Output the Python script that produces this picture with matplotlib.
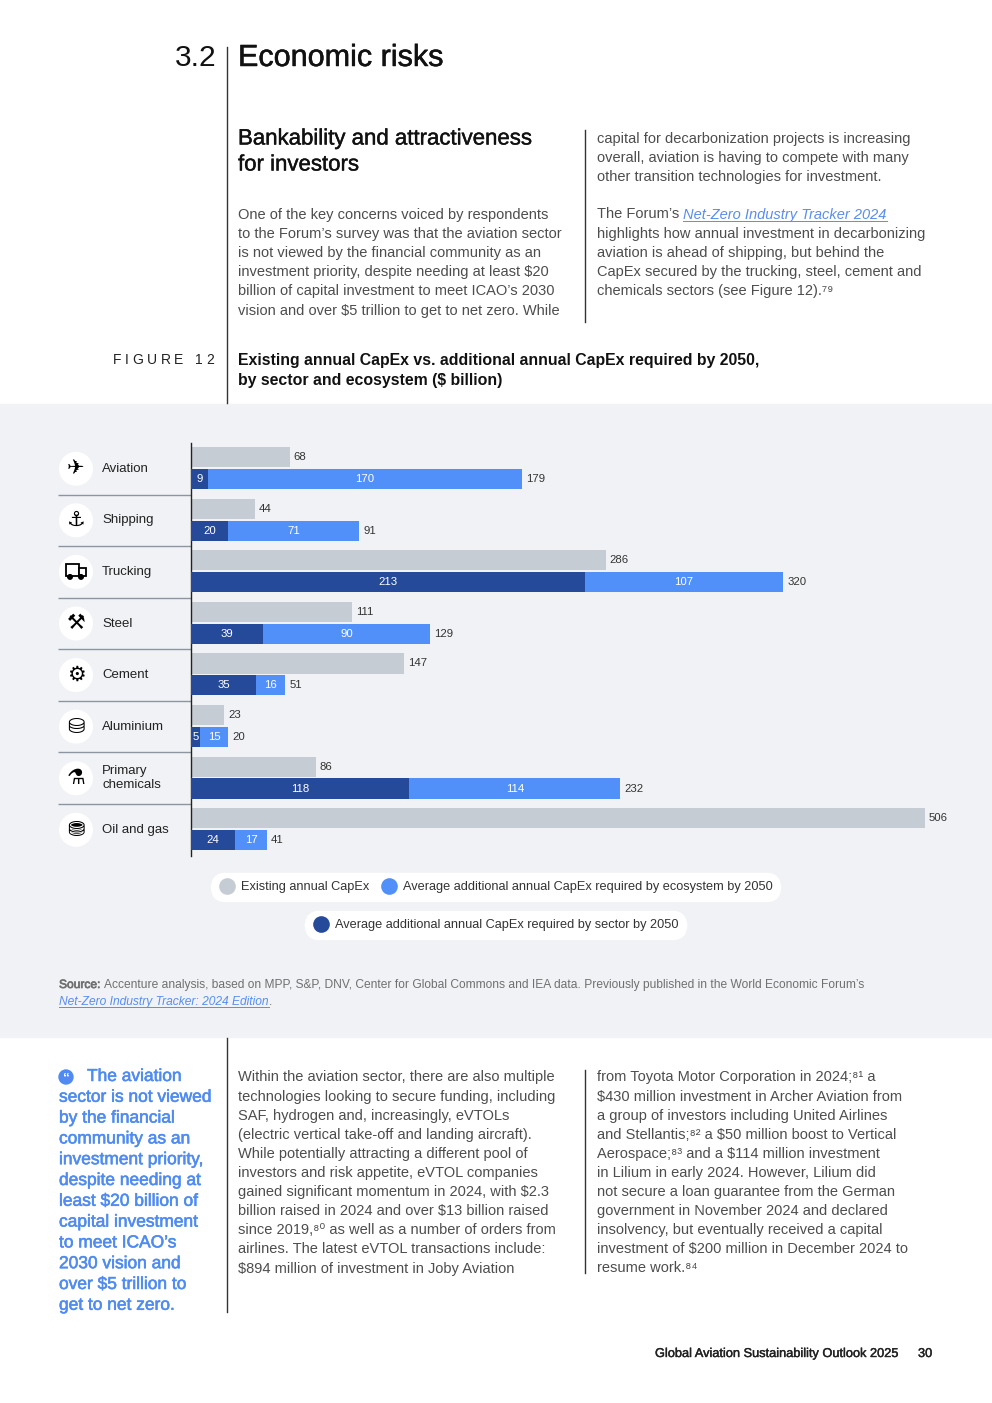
import numpy as np
import matplotlib
matplotlib.use("Agg")
import matplotlib.pyplot as plt
import matplotlib.patheffects as pe
from matplotlib.lines import Line2D
from matplotlib.patches import Rectangle, Ellipse

plt.rcParams['font.family'] = ['Liberation Sans', 'DejaVu Sans']
plt.rcParams['text.parse_math'] = False

# ---- data -------------------------------------------------------------
sectors = ["Aviation", "Shipping", "Trucking", "Steel", "Cement",
           "Aluminium", "Primary\nchemicals", "Oil and gas"]
icons = ["✈", "⚓", "", "⚒", "⚙", "⛁", "⚗", "⛃"]   # trucking icon drawn as shapes
existing = [68, 44, 286, 111, 147, 23, 86, 506]
by_sector = [9, 20, 213, 39, 35, 5, 118, 24]
by_ecosystem = [170, 71, 107, 90, 16, 15, 114, 17]
legend_labels = ["Existing annual CapEx",
                 "Average additional annual CapEx required by ecosystem by 2050",
                 "Average additional annual CapEx required by sector by 2050"]

GREY = "#C5CCD4"
DARK = "#264A9A"
BLUE = "#5290F9"
PANEL = "#F0F2F5"
BODY = "#4D4D4D"
LINK = "#5A8DEE"

W, H = 992, 1403
fig = plt.figure(figsize=(W / 100, H / 100), dpi=100)
renderer = fig.canvas.get_renderer()


def fx(x):
    return x / W


def fy(y):
    return 1 - y / H


def txt(x, y, s, **kw):
    kw.setdefault('va', 'center')
    return fig.text(fx(x), fy(y), s, **kw)


def medium(color, lw=0.6):
    return [pe.withStroke(linewidth=lw, foreground=color)]


def run(x, y, parts, **kw):
    # draw pieces of one line after each other (links, bold words)
    for s, extra, underline in parts:
        t = txt(x, y, s, **{**kw, **extra})
        bb = t.get_window_extent(renderer)
        if underline:
            fig.add_artist(Line2D([fx(bb.x0), fx(bb.x1)], [bb.y0 / H + 0.0006] * 2,
                                  transform=fig.transFigure,
                                  color=extra.get('color', BODY), lw=0.7))
        x += bb.width


def vline(x, y0, y1, color="#333333"):
    fig.add_artist(Line2D([fx(x), fx(x)], [fy(y0), fy(y1)],
                          transform=fig.transFigure, color=color, lw=1))


# ---- header -----------------------------------------------------------
txt(216, 58, "3.2", ha='right', fontsize=21.5, color="#111111")
txt(238, 58, "Economic risks", fontsize=22, color="#111111",
    path_effects=medium("#111111", 0.35))
vline(227, 47, 403)

txt(238, 139, "Bankability and attractiveness", fontsize=16, color="#111111",
    path_effects=medium("#111111", 0.3))
txt(238, 165, "for investors", fontsize=16, color="#111111",
    path_effects=medium("#111111", 0.3))

body = dict(fontsize=10.5, color=BODY)
col1 = ["One of the key concerns voiced by respondents",
        "to the Forum’s survey was that the aviation sector",
        "is not viewed by the financial community as an",
        "investment priority, despite needing at least $20",
        "billion of capital investment to meet ICAO’s 2030",
        "vision and over $5 trillion to get to net zero. While"]
for i, line in enumerate(col1):
    txt(238, 214.5 + 19.2 * i, line, **body)

vline(585, 130, 322)
col2 = ["capital for decarbonization projects is increasing",
        "overall, aviation is having to compete with many",
        "other transition technologies for investment."]
for i, line in enumerate(col2):
    txt(597, 138.5 + 19.2 * i, line, **body)
run(597, 214.5, [("The Forum’s ", {}, False),
                 ("Net-Zero Industry Tracker 2024", dict(style='italic', color=LINK), True)],
    **body)
col2b = ["highlights how annual investment in decarbonizing",
         "aviation is ahead of shipping, but behind the",
         "CapEx secured by the trucking, steel, cement and",
         "chemicals sectors (see Figure 12).⁷⁹"]
for i, line in enumerate(col2b):
    txt(597, 233.7 + 19.2 * i, line, **body)

# figure label with letter spacing
xc = 113
for ch in "FIGURE 12":
    t = txt(xc, 360, ch, fontsize=10, color="#222222")
    xc += t.get_window_extent(renderer).width + 3.6
txt(238, 360, "Existing annual CapEx vs. additional annual CapEx required by 2050,",
    fontsize=11.4, color="#111111", fontweight='bold')
txt(238, 380, "by sector and ecosystem ($ billion)",
    fontsize=11.4, color="#111111", fontweight='bold')

# ---- chart panel ------------------------------------------------------
fig.add_artist(Rectangle((0, fy(1037)), 1, (1037 - 404) / H,
                         transform=fig.transFigure, color=PANEL, zorder=-5))

n = len(sectors)
y = np.arange(n)
off_g, off_b, bh = -0.225, 0.2, 0.39

ax = fig.add_axes([fx(191), fy(855.6), 800 / W, 412.6 / H])
ax.set_facecolor('none')
ax.barh(y + off_g, existing, height=bh, color=GREY)
ax.set_ylim(n - 0.5, -0.5)
ax.set_xlim(0, 800 / 1.45)
for i, v in enumerate(existing):
    ax.annotate(str(v), (v, y[i] + off_g), xytext=(3, 0), textcoords='offset points',
                va='center', ha='left', fontsize=8.2, color="#333333")

ax2 = ax.twiny()
ax2.barh(y + off_b, by_sector, height=bh, color=DARK)
ax2.barh(y + off_b, by_ecosystem, left=by_sector, height=bh, color=BLUE)
ax2.set_xlim(0, 800 / 1.85)
for i in range(n):
    s, e = by_sector[i], by_ecosystem[i]
    ax2.text(s / 2, y[i] + off_b, str(s), ha='center', va='center',
             fontsize=8.2, color='white')
    ax2.text(s + e / 2, y[i] + off_b, str(e), ha='center', va='center',
             fontsize=8.2, color='white')
    ax2.annotate(str(s + e), (s + e, y[i] + off_b), xytext=(3, 0),
                 textcoords='offset points', va='center', ha='left',
                 fontsize=8.2, color="#333333")

for a in (ax, ax2):
    for sp in a.spines.values():
        sp.set_visible(False)
    a.set_xticks([])
    a.set_yticks([])
ax.spines['left'].set_visible(True)
ax.spines['left'].set_color("#222222")
ax.spines['left'].set_linewidth(1)

yt = ax.get_yaxis_transform()
ax.hlines(y[:-1] + 0.5, (58 - 191) / 800, 0, transform=yt, clip_on=False,
          color="#8C96A3", lw=1)
ax.scatter([(76 - 191) / 800] * n, y, s=600, color='white', transform=yt,
           clip_on=False, zorder=3, edgecolors='none')
for i in range(n):
    ax.text((76 - 191) / 800, y[i], icons[i], transform=yt, ha='center', va='center',
            fontsize=15, color='black', family=['DejaVu Sans'], zorder=4, clip_on=False)
    ax.text((102 - 191) / 800, y[i], sectors[i], transform=yt, ha='left', va='center',
            fontsize=9.5, color="#222222", linespacing=1.2, clip_on=False)

# small truck pictogram (no installed font has a truck glyph)
tc = (76, 443 + 51.57 * 2.5)
for rx, ry, rw, rh in [(-10, -8, 13, 12), (3, -4, 7, 8)]:
    fig.add_artist(Rectangle((fx(tc[0] + rx), fy(tc[1] + ry + rh)), rw / W, rh / H,
                             transform=fig.transFigure, facecolor='white',
                             edgecolor='black', lw=1.3, zorder=5))
for wx in (-6, 5):
    fig.add_artist(Ellipse((fx(tc[0] + wx), fy(tc[1] + 5)), 6 / W, 6 / H,
                           transform=fig.transFigure, facecolor='black', zorder=6))

# legend pills
hs = [Line2D([], [], marker='o', linestyle='none', markersize=12,
             markerfacecolor=c, markeredgecolor='none') for c in (GREY, BLUE, DARK)]
leg_kw = dict(loc='center', fontsize=9.2, frameon=True, handlelength=1.4,
              handletextpad=0.4, columnspacing=0.8, borderpad=0.6,
              borderaxespad=0, labelcolor="#333333")
leg1 = fig.legend(hs[:2], legend_labels[:2], bbox_to_anchor=(fx(495.5), fy(887)),
                  ncol=2, **leg_kw)
leg2 = fig.legend(hs[2:], legend_labels[2:], bbox_to_anchor=(fx(495.5), fy(925)),
                  ncol=1, **leg_kw)
for lg in (leg1, leg2):
    fr = lg.get_frame()
    fr.set_facecolor('white')
    fr.set_edgecolor('white')
    fr.set_alpha(1)
    fr.set_boxstyle('round,pad=0,rounding_size=1.15')

src = dict(fontsize=8.65, color="#707070")
run(59, 985, [("Source: ", dict(path_effects=medium("#707070", 0.5)), False),
              ("Accenture analysis, based on MPP, S&P, DNV, Center for Global Commons "
               "and IEA data. Previously published in the World Economic Forum’s", {}, False)],
    **src)
run(59, 1002, [("Net-Zero Industry Tracker: 2024 Edition", dict(style='italic', color=LINK), True),
               (".", {}, False)], **src)

# ---- lower text -------------------------------------------------------
vline(227, 1038, 1312)
QBLUE = "#4F8BF0"
fig.add_artist(Ellipse((fx(66), fy(1077)), 14 / W, 14 / H, transform=fig.transFigure,
                       color=QBLUE))
txt(66, 1079, "“", ha='center', fontsize=10, color='white', fontweight='bold')
quote = ["The aviation", "sector is not viewed", "by the financial", "community as an",
         "investment priority,", "despite needing at", "least $20 billion of",
         "capital investment", "to meet ICAO’s", "2030 vision and",
         "over $5 trillion to", "get to net zero."]
for i, line in enumerate(quote):
    txt(87 if i == 0 else 59, 1076.5 + 20.8 * i, line, fontsize=12.5, color=QBLUE,
        path_effects=medium(QBLUE, 0.4))

col3 = ["Within the aviation sector, there are also multiple",
        "technologies looking to secure funding, including",
        "SAF, hydrogen and, increasingly, eVTOLs",
        "(electric vertical take-off and landing aircraft).",
        "While potentially attracting a different pool of",
        "investors and risk appetite, eVTOL companies",
        "gained significant momentum in 2024, with $2.3",
        "billion raised in 2024 and over $13 billion raised",
        "since 2019,⁸⁰ as well as a number of orders from",
        "airlines. The latest eVTOL transactions include:",
        "$894 million of investment in Joby Aviation"]
for i, line in enumerate(col3):
    txt(238, 1077.5 + 19.1 * i, line, **body)

vline(585, 1070, 1273)
col4 = ["from Toyota Motor Corporation in 2024;⁸¹ a",
        "$430 million investment in Archer Aviation from",
        "a group of investors including United Airlines",
        "and Stellantis;⁸² a $50 million boost to Vertical",
        "Aerospace;⁸³ and a $114 million investment",
        "in Lilium in early 2024. However, Lilium did",
        "not secure a loan guarantee from the German",
        "government in November 2024 and declared",
        "insolvency, but eventually received a capital",
        "investment of $200 million in December 2024 to",
        "resume work.⁸⁴"]
for i, line in enumerate(col4):
    txt(597, 1077.5 + 19.1 * i, line, **body)

txt(655, 1354, "Global Aviation Sustainability Outlook 2025", fontsize=9.2,
    color="#222222", path_effects=medium("#222222", 0.3))
txt(918, 1354, "30", fontsize=9.2, color="#222222", path_effects=medium("#222222", 0.3))

fig.savefig("out.png", dpi=100)
